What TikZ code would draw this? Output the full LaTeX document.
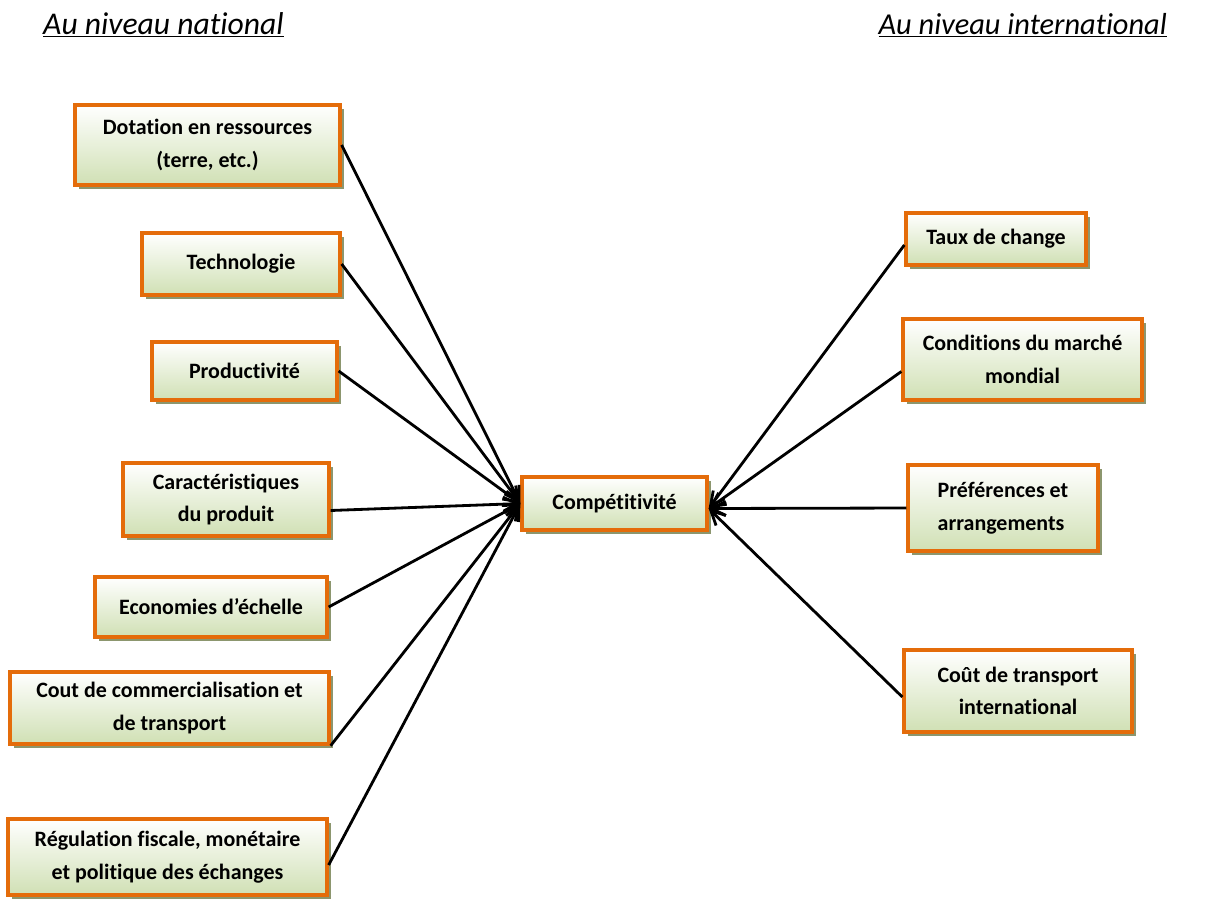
\documentclass[tikz,border=0pt]{standalone}
\usepackage{fontspec}
\setmainfont[Ligatures=NoCommon]{Carlito}
\usetikzlibrary{arrows.meta,shadows}
\definecolor{boxorange}{RGB}{228,108,10}
\definecolor{boxgreen}{RGB}{208,224,180}
\definecolor{shadowolive}{RGB}{140,150,110}
\tikzset{
  facteur/.style={draw=boxorange, line width=1.9pt, top color=white, bottom color=boxgreen,
    align=center, font=\fontsize{12.5}{18.5}\selectfont\bfseries, inner sep=2pt,
    drop shadow={shadow xshift=0.08cm, shadow yshift=-0.08cm, fill=shadowolive, opacity=1}},
  fleche/.style={-{Straight Barb[length=8pt,width=8pt]}, line width=1.6pt},
  titre/.style={font=\fontsize{18}{21}\selectfont\itshape, anchor=base west}
}

\begin{document}
\begin{tikzpicture}[x=0.02cm, y=-0.02cm]
  \useasboundingbox (0,0) rectangle (1212,900);

  % titres
  \node[titre] (nat) at (37,34) {\underline{Au niveau national}};
  \node[titre, anchor=base east, font=\fontsize{17.3}{21}\selectfont\itshape] (inter) at (1173,34) {\underline{Au niveau international}};

  % centre
  \node[facteur, minimum width=3.7cm, minimum height=1.06cm] (comp) at (614.5,503.5) {Compétitivité};

  % niveau national
  \node[facteur, minimum width=5.3cm, minimum height=1.6cm] (dotation) at (207.5,145) {Dotation en ressources\\(terre, etc.)};
  \node[facteur, minimum width=3.96cm, minimum height=1.24cm] (techno) at (241,264) {Technologie};
  \node[facteur, minimum width=3.7cm, minimum height=1.16cm] (produc) at (244.5,371) {Productivité};
  \node[facteur, minimum width=4.12cm, minimum height=1.46cm] (caract) at (226,499.5) {Caractéristiques\\du produit};
  \node[facteur, minimum width=4.64cm, minimum height=1.2cm] (echelle) at (211,607) {Economies d’échelle};
  \node[facteur, minimum width=6.38cm, minimum height=1.44cm] (cout) at (169.5,708) {Cout de commercialisation et\\de transport};
  \node[facteur, minimum width=6.38cm, minimum height=1.52cm] (regul) at (167.5,857) {Régulation fiscale, monétaire\\et politique des échanges};

  % niveau international
  \node[facteur, minimum width=3.6cm, minimum height=1.04cm] (taux) at (996,239) {Taux de change};
  \node[facteur, minimum width=4.78cm, minimum height=1.62cm] (marche) at (1022.5,359.5) {Conditions du marché\\mondial};
  \node[facteur, align=left, minimum width=3.8cm, minimum height=1.72cm] (pref) at (1003,508) {Préférences et\\arrangements};
  \node[facteur, minimum width=4.56cm, minimum height=1.64cm] (transp) at (1018,691) {Coût de transport\\international};

  % fleches
  \draw[fleche] (dotation.east) -- (comp.west);
  \draw[fleche] (techno.east) -- (comp.west);
  \draw[fleche] (produc.east) -- (comp.west);
  \draw[fleche] ([yshift=-0.22cm]caract.east) -- (comp.west);
  \draw[fleche] (echelle.east) -- (comp.west);
  \draw[fleche] (cout.south east) -- (comp.west);
  \draw[fleche] ([yshift=-0.16cm]regul.east) -- (comp.west);

  \draw[fleche] ([yshift=-0.12cm]taux.west) -- ([yshift=-0.1cm]comp.east);
  \draw[fleche] ([yshift=-0.24cm]marche.west) -- ([yshift=-0.1cm]comp.east);
  \draw[fleche] (pref.west) -- ([yshift=-0.1cm]comp.east);
  \draw[fleche] ([yshift=-0.12cm]transp.west) -- ([yshift=-0.1cm]comp.east);
\end{tikzpicture}
\end{document}
